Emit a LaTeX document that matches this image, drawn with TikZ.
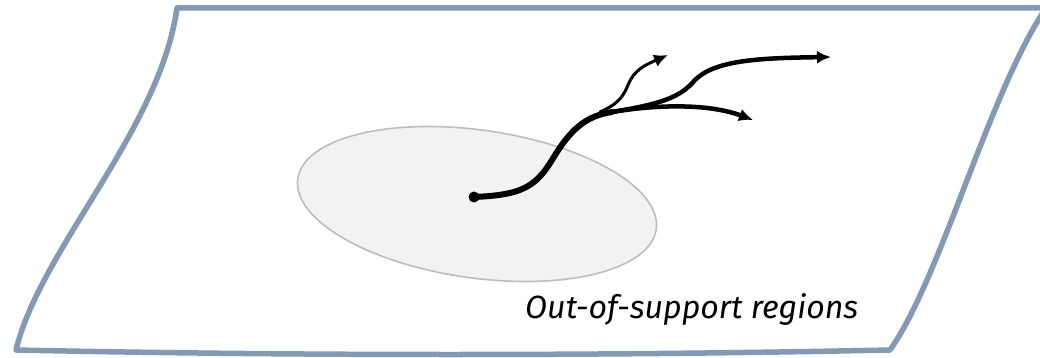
\documentclass[tikz,border=0pt]{standalone}
\usepackage{fontspec}
\setmainfont{Fira Sans}
\usetikzlibrary{arrows.meta}
\definecolor{frameblue}{HTML}{8499B3}
\definecolor{regionfill}{HTML}{F2F2F2}
\definecolor{regionline}{HTML}{BDBDBD}
\tikzset{
  sheet/.style={draw=frameblue, line width=5.5pt, line join=round, fill=white},
  region/.style={draw=regionline, line width=1.6pt, fill=regionfill},
  traj/.style={line width=#1, line cap=round, -{Latex[length=14pt,width=13pt]}},
  trunk/.style={line width=6pt, line cap=round},
  caption/.style={font=\itshape, anchor=base west, inner sep=0pt}
}
\begin{document}
\begin{tikzpicture}[x=1pt,y=-1pt]
  \useasboundingbox (0,0) rectangle (1040,358);
  % warped sheet
  \draw[sheet] (177,8) -- (1046,8)
    .. controls (990,90) and (940,280) .. (890,350)
    .. controls (600,356) and (300,356) .. (16,350)
    .. controls (40,250) and (160,130) .. cycle;
  % support region
  \draw[region] (477,204) ellipse[x radius=181, y radius=74, rotate=-8];
  % trajectory trunk from the start point
  \coordinate (start) at (474,197);
  \coordinate (fork) at (612,112);
  \fill (start) circle[radius=5.5pt];
  \draw[trunk] (start) .. controls (520,195) and (535,188) .. (552,160)
    .. controls (570,130) and (585,116) .. (fork);
  % branches
  \coordinate (tipA) at (668,55);
  \coordinate (tipB) at (831,57);
  \coordinate (tipC) at (753,120);
  \draw[traj=3pt] (600,112) .. controls (615,105) and (622,100) .. (628,85)
    .. controls (634,70) and (645,65) .. (tipA);
  \draw[traj=4.5pt] (fork) .. controls (660,104) and (680,98) .. (695,80)
    .. controls (715,60) and (760,58) .. (tipB);
  \draw[traj=4.5pt] (fork) .. controls (660,104) and (710,104) .. (tipC);
  % caption
  \node[caption] (lbl) at (525,318) {\resizebox{333pt}{!}{Out-of-support regions}};
\end{tikzpicture}
\end{document}
